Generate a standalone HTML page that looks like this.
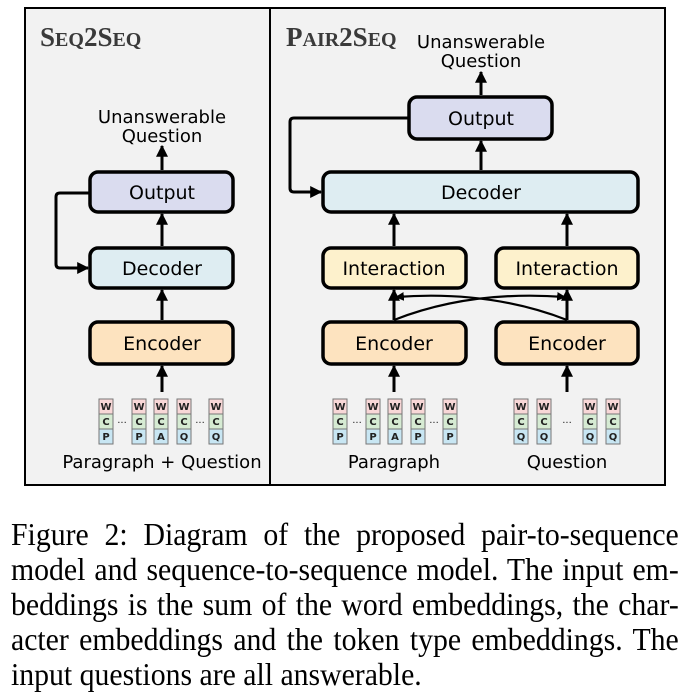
<!DOCTYPE html>
<html><head><meta charset="utf-8"><style>
body{margin:0;background:#fff;width:691px;height:697px;overflow:hidden;position:relative}
svg{position:absolute;left:0;top:0}
.cap{position:absolute;left:11px;width:718px;transform:scaleX(0.93);transform-origin:0 0;font-family:"Liberation Serif",serif;font-size:32px;line-height:35px;color:#000;text-align:justify;text-align-last:justify;white-space:nowrap}
</style></head><body>
<svg width="691" height="697" viewBox="0 0 691 697" font-family="'DejaVu Sans',sans-serif">
<defs><marker id="a" viewBox="0 0 10 10" refX="9" refY="5" markerWidth="4" markerHeight="4" orient="auto"><path d="M0,0L10,5L0,10z" fill="#000"/></marker>
<g id="c"><rect width="14" height="15" fill="#f8d7d7" stroke="#777"/><rect y="15" width="14" height="15" fill="#d6ebd3" stroke="#777"/><rect y="30" width="14" height="15" fill="#c8e6f3" stroke="#777"/><text x="7" y="11">W</text><text x="7" y="26">C</text></g>
</defs>
<rect x="25" y="8" width="640" height="477" fill="#f2f2f2" stroke="#000" stroke-width="2"/>
<line x1="270" y1="8" x2="270" y2="485" stroke="#000" stroke-width="2"/>
<g font-family="'Liberation Serif',serif" font-weight="bold" fill="#3a3a3a">
<text x="40" y="46" font-size="27">S<tspan font-size="20">EQ</tspan>2S<tspan font-size="20">EQ</tspan></text>
<text x="286" y="46" font-size="27">P<tspan font-size="20">AIR</tspan>2S<tspan font-size="20">EQ</tspan></text>
</g>
<g font-size="18" text-anchor="middle" fill="#000">
<text x="162" y="123">Unanswerable</text><text x="162" y="142">Question</text>
<text x="481" y="48">Unanswerable</text><text x="481" y="67">Question</text>
</g>
<g stroke="#000" stroke-width="3.5">
<rect x="90" y="172" width="143" height="40" rx="8" fill="#dadcef"/>
<rect x="90" y="248" width="143" height="40" rx="8" fill="#deedf2"/>
<rect x="90" y="322" width="143" height="42" rx="8" fill="#fde3bf"/>
<rect x="409" y="97" width="143" height="42" rx="8" fill="#dadcef"/>
<rect x="323" y="172" width="315" height="40" rx="8" fill="#deedf2"/>
<rect x="323" y="248" width="143" height="40" rx="8" fill="#fdf1cc"/>
<rect x="496" y="248" width="142" height="40" rx="8" fill="#fdf1cc"/>
<rect x="323" y="322" width="143" height="42" rx="8" fill="#fde3bf"/>
<rect x="496" y="322" width="142" height="42" rx="8" fill="#fde3bf"/>
</g>
<g font-size="19" text-anchor="middle" fill="#000">
<text x="162" y="199">Output</text><text x="162" y="275">Decoder</text><text x="162" y="350">Encoder</text>
<text x="481" y="125">Output</text><text x="481" y="199">Decoder</text>
<text x="394" y="275">Interaction</text><text x="567" y="275">Interaction</text>
<text x="394" y="350">Encoder</text><text x="567" y="350">Encoder</text>
</g>
<g stroke="#000" stroke-width="3" fill="none" marker-end="url(#a)">
<line x1="162" y1="170" x2="162" y2="146"/>
<line x1="162" y1="246" x2="162" y2="214"/>
<line x1="162" y1="320" x2="162" y2="290"/>
<line x1="162" y1="392" x2="162" y2="366"/>
<path d="M90,193H60Q56,193 56,197V264Q56,268 60,268H88"/>
<line x1="481" y1="95" x2="481" y2="72"/>
<line x1="481" y1="170" x2="481" y2="141"/>
<path d="M409,118H294Q290,118 290,122V188Q290,192 294,192H321"/>
<line x1="394" y1="246" x2="394" y2="214"/>
<line x1="567" y1="246" x2="567" y2="214"/>
<line x1="394" y1="320" x2="394" y2="290"/>
<line x1="567" y1="320" x2="567" y2="290"/>
<line x1="394" y1="392" x2="394" y2="366"/>
<line x1="567" y1="392" x2="567" y2="366"/>
</g>
<g stroke="#000" stroke-width="2.2" fill="none" marker-end="url(#a)">
<path d="M394,320Q470,290 565,297"/>
<path d="M567,320Q490,290 396,297"/>
</g>
<g font-size="10" font-weight="bold" text-anchor="middle" fill="#222" stroke-width="1">
<g transform="translate(99,399)"><use href="#c"/><text x="7" y="41">P</text></g>
<g transform="translate(132,399)"><use href="#c"/><text x="7" y="41">P</text></g>
<g transform="translate(154,399)"><use href="#c"/><text x="7" y="41">A</text></g>
<g transform="translate(177,399)"><use href="#c"/><text x="7" y="41">Q</text></g>
<g transform="translate(209,399)"><use href="#c"/><text x="7" y="41">Q</text></g>
<g transform="translate(333,399)"><use href="#c"/><text x="7" y="41">P</text></g>
<g transform="translate(366,399)"><use href="#c"/><text x="7" y="41">P</text></g>
<g transform="translate(388,399)"><use href="#c"/><text x="7" y="41">A</text></g>
<g transform="translate(411,399)"><use href="#c"/><text x="7" y="41">P</text></g>
<g transform="translate(443,399)"><use href="#c"/><text x="7" y="41">P</text></g>
<g transform="translate(514,399)"><use href="#c"/><text x="7" y="41">Q</text></g>
<g transform="translate(537,399)"><use href="#c"/><text x="7" y="41">Q</text></g>
<g transform="translate(583,399)"><use href="#c"/><text x="7" y="41">Q</text></g>
<g transform="translate(606,399)"><use href="#c"/><text x="7" y="41">Q</text></g>
<g font-weight="normal"><text x="122" y="426">···</text><text x="200" y="426">···</text>
<text x="357" y="426">···</text><text x="434" y="426">···</text><text x="567" y="426">···</text></g>
</g>
<g font-size="18" text-anchor="middle" fill="#000">
<text x="162" y="468">Paragraph + Question</text>
<text x="394" y="468">Paragraph</text>
<text x="567" y="468">Question</text>
</g>
</svg>
<div class="cap" style="top:517px">Figure 2: Diagram of the proposed pair-to-sequence</div>
<div class="cap" style="top:552px">model and sequence-to-sequence model. The input em-</div>
<div class="cap" style="top:587px">beddings is the sum of the word embeddings, the char-</div>
<div class="cap" style="top:622px">acter embeddings and the token type embeddings. The</div>
<div class="cap" style="top:657px;text-align-last:left">input questions are all answerable.</div>
</body></html>
